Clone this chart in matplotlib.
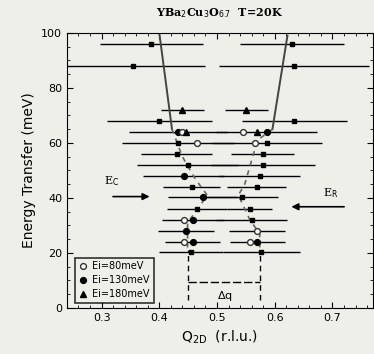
import numpy as np
import matplotlib.pyplot as plt

# Ei = 180 meV (filled triangles)
e180_E = [72, 72, 64, 64]
e180_q = [0.440, 0.551, 0.447, 0.570]
e180_dq = [0.037, 0.037, 0.0, 0.0]

# Ei = 130 meV (filled circles)
e130_E = [64, 64, 48, 40.5, 32, 28, 24, 24]
e130_q = [0.432, 0.586, 0.442, 0.475, 0.458, 0.446, 0.458, 0.570]
e130_dq = [0.085, 0.088, 0.070, 0.060, 0.054, 0.048, 0.048, 0.048]

# Ei = 80 meV (open circles)
e80_E = [64, 64, 60, 60, 32, 28, 24, 24]
e80_q = [0.440, 0.545, 0.466, 0.566, 0.442, 0.569, 0.442, 0.557]
e80_dq = [0.0, 0.0, 0.0, 0.0, 0.0, 0.048, 0.0, 0.0]

# other scans (small squares)
sc_E = [96, 96, 88, 88, 68, 68, 60, 60, 56, 56, 52, 52, 48, 44, 44,
        40.5, 36, 36, 32, 20.5, 20.5]
sc_q = [0.386, 0.630, 0.355, 0.633, 0.400, 0.634, 0.432, 0.586, 0.430, 0.579,
        0.449, 0.579, 0.574, 0.456, 0.569, 0.543, 0.465, 0.557, 0.560, 0.455, 0.577]
sc_dq = [0.089, 0.090, 0.125, 0.130, 0.091, 0.091, 0.097, 0.095, 0.061, 0.055,
         0.087, 0.090, 0.070, 0.050, 0.051, 0.062, 0.052, 0.039, 0.062, 0.055, 0.066]

# dispersion guide lines
left_solid_q = [0.400, 0.422]
left_solid_E = [100, 65]
left_dash_q = [0.422, 0.440, 0.462, 0.483, 0.470, 0.449, 0.449]
left_dash_E = [65, 55, 47, 41, 37, 31, 22]
right_solid_q = [0.622, 0.596]
right_solid_E = [99, 65]
right_dash_q = [0.596, 0.570, 0.548, 0.537, 0.557, 0.574, 0.574]
right_dash_E = [65, 61, 45, 41, 32, 27, 22]

bg = '#efefea'
fig = plt.figure(figsize=(3.74, 3.54), dpi=100, facecolor=bg)
ax = fig.add_axes([0.179, 0.130, 0.818, 0.777], facecolor=bg)

ax.errorbar(sc_q, sc_E, xerr=sc_dq, fmt='s', ms=2.2, color='black',
            ecolor='black', elinewidth=1.0, capsize=0)
ax.errorbar(e130_q, e130_E, xerr=e130_dq, fmt='o', ms=4.2, color='black',
            ecolor='black', elinewidth=1.0, capsize=0, label='Ei=130meV')
ax.errorbar(e80_q, e80_E, xerr=e80_dq, fmt='o', ms=4.2, mfc='white', mec='#333333',
            ecolor='black', elinewidth=1.0, capsize=0, label='Ei=80meV')
ax.errorbar(e180_q, e180_E, xerr=e180_dq, fmt='^', ms=4.2, color='black',
            ecolor='black', elinewidth=1.0, capsize=0, label='Ei=180meV')

ax.plot(left_solid_q, left_solid_E, color='#444444', lw=1.4)
ax.plot(right_solid_q, right_solid_E, color='#444444', lw=1.4)
ax.plot(left_dash_q, left_dash_E, color='#666666', lw=1.2, ls=(0, (3, 3)))
ax.plot(right_dash_q, right_dash_E, color='#666666', lw=1.2, ls=(0, (3, 3)))

# delta q marker
ax.plot([0.449, 0.449], [3, 21], color='black', lw=1, ls=(0, (4, 3)))
ax.plot([0.574, 0.574], [3, 21], color='black', lw=1, ls=(0, (4, 3)))
ax.plot([0.449, 0.574], [9.5, 9.5], color='black', lw=1, ls=(0, (6, 2)))
ax.text(0.513, 4.5, r'$\Delta$q', ha='center', va='center', fontsize=8)

# Ec / Er arrows
ax.annotate('', xy=(0.388, 40.5), xytext=(0.315, 40.5),
            arrowprops=dict(arrowstyle='-|>', color='black', lw=1.2))
ax.text(0.318, 45, r'E$_\mathrm{C}$', family='serif', fontsize=8, ha='center')
ax.annotate('', xy=(0.624, 36.8), xytext=(0.725, 36.8),
            arrowprops=dict(arrowstyle='-|>', color='black', lw=1.2))
ax.text(0.697, 40.5, r'E$_\mathrm{R}$', family='serif', fontsize=8, ha='center')

ax.set_xlim(0.24, 0.77)
ax.set_ylim(0, 100)
ax.set_xticks([0.3, 0.4, 0.5, 0.6, 0.7])
ax.set_xticklabels(['0.3', '0.4', '0.5', '0.6', '0.7'])
ax.set_yticks([0, 20, 40, 60, 80, 100])
ax.minorticks_on()
ax.tick_params(which='both', direction='in', top=True, right=True, labelsize=8)
ax.tick_params(which='major', length=4)
ax.tick_params(which='minor', length=2)

ax.set_xlabel(r'Q$_\mathrm{2D}$  (r.l.u.)', fontsize=10)
ax.set_ylabel('Energy Transfer (meV)', fontsize=10)
ax.set_title(r'YBa$_2$Cu$_3$O$_{6.7}$  T=20K', family='serif', fontweight='bold',
             fontsize=8, pad=12)

handles, labels = ax.get_legend_handles_labels()
order = [labels.index('Ei=80meV'), labels.index('Ei=130meV'), labels.index('Ei=180meV')]
leg = ax.legend([handles[i][0] for i in order], [labels[i] for i in order],
                loc='lower left', bbox_to_anchor=(0.01, 0.0), fontsize=7,
                frameon=True, fancybox=False, edgecolor='black', facecolor=bg,
                handlelength=0.8, handletextpad=0.6, borderpad=0.4, labelspacing=0.4)
leg.get_frame().set_linewidth(1.2)

fig.savefig('out.png', dpi=100, facecolor=bg)
